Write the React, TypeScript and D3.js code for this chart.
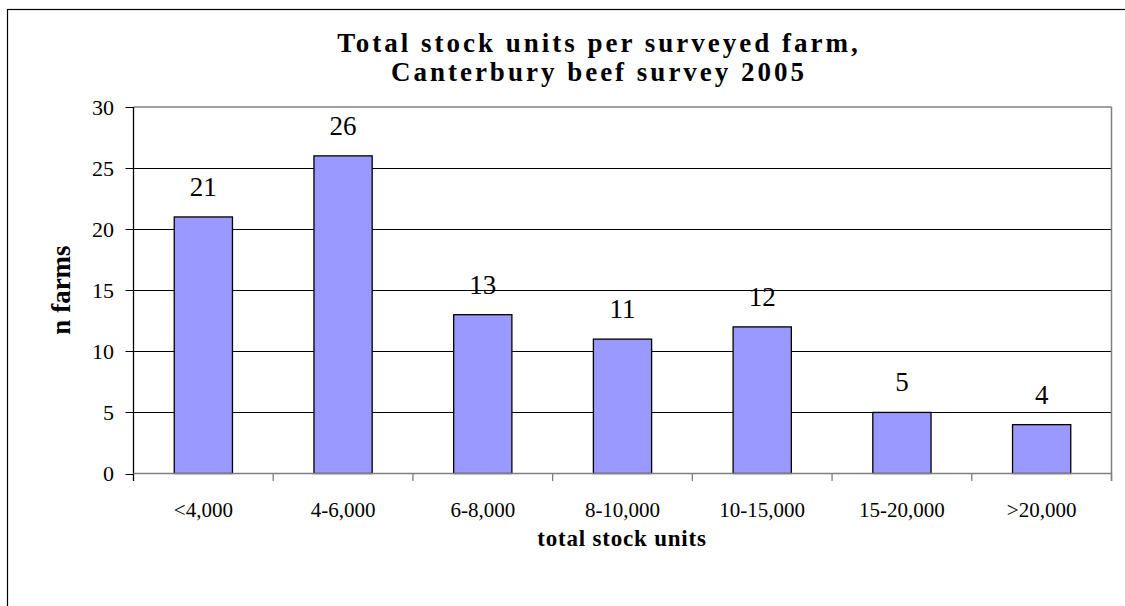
import React from "react";
import * as d3 from "d3";

const categories = ["<4,000", "4-6,000", "6-8,000", "8-10,000", "10-15,000", "15-20,000", ">20,000"];
const values = [21, 26, 13, 11, 12, 5, 4];
const yTicks = [0, 5, 10, 15, 20, 25, 30];
const titleLines = ["Total stock units per surveyed farm,", "Canterbury beef survey 2005"];
const yTitle = "n farms";
const xTitle = "total stock units";

const W = 1125;
const H = 606;
const plot = { left: 133.5, right: 1111.5, top: 107, bottom: 473.5 };
const FONT = "'Liberation Serif', 'Times New Roman', serif";

export default function App() {
  const x = d3.scaleBand<string>().domain(categories).range([plot.left, plot.right]).padding(0);
  const y = d3.scaleLinear().domain([0, 30]).range([plot.bottom, plot.top]);
  const bw = x.bandwidth() / 2.4;
  const cx = (c: string) => (x(c) as number) + x.bandwidth() / 2;

  return (
    <svg width={W} height={H} style={{ position: "absolute", left: 0, top: 0, background: "#fff" }} fontFamily={FONT}>
      <rect x={0} y={0} width={W} height={H} fill="#fff" />
      <rect x={7.5} y={9.5} width={W + 20} height={H + 20} fill="none" stroke="#000" strokeWidth={1.2} />
      {yTicks.filter((t) => t > 0 && t < 30).map((t) => (
        <line key={"g" + t} x1={plot.left} x2={plot.right} y1={Math.round(y(t)) + 0.5} y2={Math.round(y(t)) + 0.5} stroke="#000" strokeWidth={1} />
      ))}
      <line x1={plot.left} x2={plot.right} y1={plot.top} y2={plot.top} stroke="#808080" strokeWidth={1.5} />
      <line x1={plot.right} x2={plot.right} y1={plot.top} y2={plot.bottom + 7.5} stroke="#808080" strokeWidth={1.5} />
      {categories.map((c, i) => (
        <rect key={"b" + c} x={cx(c) - bw / 2} y={y(values[i])} width={bw} height={plot.bottom - y(values[i])} fill="#9999FF" stroke="#000" strokeWidth={1.3} />
      ))}
      {categories.map((c, i) => (
        <text key={"v" + c} x={cx(c)} y={y(values[i]) - 21} textAnchor="middle" fontSize={27} fill="#000">{values[i]}</text>
      ))}
      <line x1={plot.left} x2={plot.left} y1={plot.top} y2={plot.bottom + 7.5} stroke="#000" strokeWidth={1.3} />
      {yTicks.map((t) => (
        <g key={"y" + t}>
          <line x1={plot.left - 8} x2={plot.left} y1={Math.round(y(t)) + 0.5} y2={Math.round(y(t)) + 0.5} stroke="#000" strokeWidth={1} />
          <text x={114} y={y(t)} dy="0.35em" textAnchor="end" fontSize={22}>{t}</text>
        </g>
      ))}
      <line x1={plot.left} x2={plot.right} y1={plot.bottom} y2={plot.bottom} stroke="#808080" strokeWidth={1.5} />
      {categories.map((c) => (
        <line key={"xt" + c} x1={(x(c) as number) + x.bandwidth()} x2={(x(c) as number) + x.bandwidth()} y1={plot.bottom} y2={plot.bottom + 7.5} stroke="#808080" strokeWidth={1.3} />
      ))}
      {categories.map((c) => (
        <text key={"xl" + c} x={cx(c)} y={517} textAnchor="middle" fontSize={21}>{c}</text>
      ))}
      {titleLines.map((l, i) => (
        <text key={"t" + i} x={599} y={52 + i * 29} textAnchor="middle" fontSize={27} fontWeight="bold" letterSpacing={3}>{l}</text>
      ))}
      <text x={622} y={546} textAnchor="middle" fontSize={23} fontWeight="bold" letterSpacing={0.8}>{xTitle}</text>
      <text transform={`translate(70,290) rotate(-90)`} textAnchor="middle" fontSize={27} fontWeight="bold">{yTitle}</text>
    </svg>
  );
}
